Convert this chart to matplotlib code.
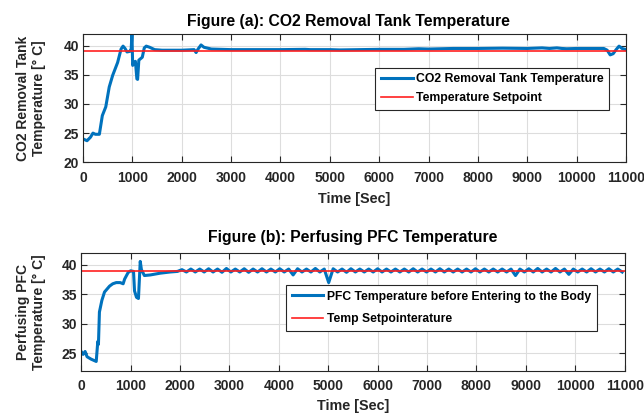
import numpy as np
import matplotlib
matplotlib.use("Agg")
import matplotlib.pyplot as plt

plt.rcParams['font.family'] = ['Liberation Sans', 'DejaVu Sans']
plt.rcParams['font.weight'] = 'bold'

# ---------------- data (a) CO2 removal tank ----------------
t_a = [0, 80, 150, 200, 250, 330, 390, 460, 530, 600, 700, 770, 810, 850, 890, 945,
       975, 990, 1005, 1020, 1060, 1090, 1105, 1130, 1200, 1240, 1280, 1350, 1450, 1600,
       2000, 2250, 2290, 2330, 2390, 2450, 2600, 3000, 4000, 4500, 4600, 5000, 5200,
       6000, 6500, 6800, 7000, 7500, 8000, 8500, 9000, 9300, 9450, 9600, 9700, 9800,
       10000, 10300, 10550, 10620, 10680, 10740, 10800, 10860, 10920, 11000]
v_a = [24.0, 23.7, 24.3, 25.0, 24.8, 24.8, 28.0, 29.5, 32.9, 34.9, 37.1, 39.4, 39.9, 39.5, 38.9, 39.0,
       39.4, 42.0, 36.6, 37.0, 37.3, 34.3, 34.2, 37.5, 38.0, 39.6, 39.9, 39.7, 39.3, 39.2,
       39.2, 39.3, 38.8, 39.4, 40.1, 39.7, 39.4, 39.3, 39.3, 39.35, 39.3, 39.3, 39.25,
       39.35, 39.35, 39.45, 39.4, 39.5, 39.5, 39.55, 39.5, 39.6, 39.5, 39.6, 39.5, 39.45,
       39.5, 39.5, 39.5, 39.2, 38.4, 38.6, 39.3, 39.9, 39.5, 39.3]

# ---------------- data (b) perfusing PFC ----------------
t_b0 = [0, 40, 80, 120, 200, 305, 337, 350, 370, 420, 473, 575, 640, 710, 790, 850,
        880, 950, 1000, 1060, 1080, 1120, 1160, 1180, 1196, 1220, 1280, 1400, 1600, 1800, 1950]
v_b0 = [25.3, 24.8, 25.3, 24.4, 24.0, 23.6, 27.0, 26.5, 32.0, 34.0, 35.4, 36.4, 36.8, 37.0, 37.0, 36.8,
        37.6, 38.7, 39.0, 38.9, 35.6, 34.5, 34.3, 38.0, 40.6, 39.2, 38.2, 38.3, 38.6, 38.8, 38.9]
t_b1 = np.arange(2040, 11001, 90)
v_b1 = [39.2, 38.8, 39.3, 38.8, 39.3, 38.8, 39.35, 38.8, 39.3, 38.75, 39.4, 38.8,
        39.3, 38.8, 39.35, 38.75, 39.3, 38.8, 39.35, 38.8, 39.3, 38.8, 39.35, 38.8,
        39.3, 38.3, 39.35, 38.8, 39.3, 38.8, 39.4, 38.8, 39.3, 37.0, 39.35, 38.8,
        39.3, 38.75, 39.35, 38.8, 39.3, 38.8, 39.3, 38.8, 39.35, 38.8, 39.3, 38.8,
        39.3, 38.8, 39.3, 38.8, 39.35, 38.8, 39.3, 38.8, 39.3, 38.8, 39.35, 38.8,
        39.3, 38.8, 39.3, 38.8, 39.3, 38.8, 39.35, 38.8, 39.3, 38.8, 39.3, 38.8,
        39.3, 38.8, 39.3, 38.2, 39.3, 38.8, 39.35, 38.8, 39.4, 38.8, 39.3, 38.8,
        39.4, 38.8, 39.3, 38.4, 39.3, 38.8, 39.3, 38.8, 39.35, 38.8, 39.3, 38.8,
        39.35, 38.8, 39.3, 38.8]
t_b = list(t_b0) + list(t_b1)
v_b = list(v_b0) + list(v_b1[:len(t_b1)])

setpoint = 39
x_ticks = list(range(0, 11001, 1000))
ya_ticks = [20, 25, 30, 35, 40]
yb_ticks = [25, 30, 35, 40]

BLUE = '#0072BD'
RED = '#FF2020'
TXT = '#262626'
NARROW = ['Liberation Sans Narrow', 'Liberation Sans', 'DejaVu Sans']

fig = plt.figure(figsize=(6.44, 4.13), dpi=100)
ax1 = fig.add_axes([0.129, 0.607, 0.843, 0.311])
ax2 = fig.add_axes([0.126, 0.102, 0.844, 0.285])

def style(ax, yt, ylim):
    ax.set_xlim(0, 11000)
    ax.set_ylim(*ylim)
    ax.set_xticks(x_ticks)
    ax.set_yticks(yt)
    ax.grid(True, color='#dddddd', linewidth=0.8)
    ax.set_axisbelow(True)
    ax.tick_params(direction='in', top=True, right=True, length=4, width=0.8,
                   labelsize=10, colors=TXT)
    ax.tick_params(axis='x', pad=6)
    ax.tick_params(axis='y', pad=3)
    for lab in ax.get_xticklabels() + ax.get_yticklabels():
        lab.set_fontweight('bold')
    for s in ax.spines.values():
        s.set_color(TXT)
        s.set_linewidth(0.8)

ax1.plot(t_a, v_a, color=BLUE, lw=2.2, label='CO2 Removal Tank Temperature')
ax1.axhline(setpoint, color=RED, lw=1.2, label='Temperature Setpoint')
style(ax1, ya_ticks, (20, 42))
ax1.set_title('Figure (a): CO2 Removal Tank Temperature', fontsize=11.3, fontweight='bold',
              pad=6, x=0.488)
ax1.set_xlabel('Time [Sec]', fontsize=10.4, fontweight='bold', color=TXT, labelpad=5)
ax1.set_ylabel('CO2 Removal Tank\nTemperature [° C]', fontsize=10, fontweight='bold', color=TXT,
               family=NARROW, linespacing=1.2)
ax1.yaxis.set_label_coords(-0.068, 0.5)
leg1 = ax1.legend(loc='upper left', bbox_to_anchor=(0.527, 0.785), fontsize=8.8, frameon=True,
                  fancybox=False, edgecolor=TXT, framealpha=1, handlelength=2.6,
                  borderpad=0.45, labelspacing=0.6, handletextpad=0.3)
leg1.get_frame().set_linewidth(0.8)

ax2.plot(t_b, v_b, color=BLUE, lw=2.2, label='PFC Temperature before Entering to the Body')
ax2.axhline(setpoint, color=RED, lw=1.2, label='Temp Setpointerature')
style(ax2, yb_ticks, (22, 42))
ax2.set_title('Figure (b): Perfusing PFC Temperature', fontsize=11.3, fontweight='bold', pad=8)
ax2.set_xlabel('Time [Sec]', fontsize=10.4, fontweight='bold', color=TXT, labelpad=4)
ax2.set_ylabel('Perfusing PFC\nTemperature [° C]', fontsize=10, fontweight='bold', color=TXT,
               family=NARROW, linespacing=1.2)
ax2.yaxis.set_label_coords(-0.064, 0.5)
leg2 = ax2.legend(loc='upper left', bbox_to_anchor=(0.365, 0.785), fontsize=8.7, frameon=True,
                  fancybox=False, edgecolor=TXT, framealpha=1, handlelength=2.6,
                  borderpad=0.5, labelspacing=0.85, handletextpad=0.3)
leg2.get_frame().set_linewidth(0.8)

fig.savefig('out.png', dpi=100)
